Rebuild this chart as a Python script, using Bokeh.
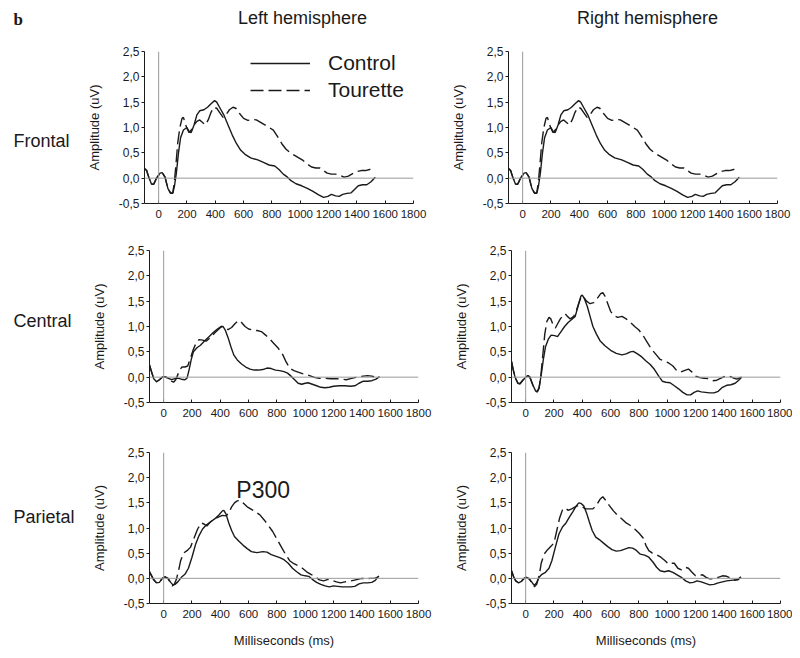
from bokeh.plotting import figure
from bokeh.models import Range1d, FixedTicker, Span, Legend, LegendItem, Label
from bokeh.layouts import column, row
from bokeh.embed import file_html
from bokeh.resources import INLINE
from bokeh.core.properties import value

FONT = "Liberation Sans"
INK = "#1a1a1a"
GRAY = "#9a9a9a"

# ---------------- data ----------------
X_TICKS = [0, 200, 400, 600, 800, 1000, 1200, 1400, 1600, 1800]
Y_TICKS = [-0.5, 0.0, 0.5, 1.0, 1.5, 2.0, 2.5]
Y_TICK_LABELS = ["-0,5", "0,0", "0,5", "1,0", "1,5", "2,0", "2,5"]
ROW_NAMES = ["Frontal", "Central", "Parietal"]
COL_NAMES = ["Left hemisphere", "Right hemisphere"]
SERIES = ["Control", "Tourette"]
PANEL_TAG = "b"
PEAK_NOTE = "P300"

# Frontal, left hemisphere
FL_CTRL_T = [-100, -85, -70, -50, -35, -15, 10, 25, 45, 65, 85, 100, 112, 125, 140, 155, 175, 200, 215, 230,
             250, 270, 290, 320, 345, 370, 395, 410, 430, 460, 490, 520, 550, 580, 610, 650, 700, 740, 780, 820,
             850, 880, 910, 935, 970, 1010, 1050, 1090, 1130, 1165, 1195, 1220, 1250, 1275, 1300, 1330, 1360,
             1385, 1410, 1440, 1470, 1500, 1530]
FL_CTRL_V = [0.19, 0.15, 0.02, -0.12, -0.12, 0.0, 0.1, 0.11, 0.02, -0.2, -0.3, -0.3, -0.15, 0.1, 0.5, 0.8, 0.95, 1.0, 0.92, 0.9,
             1.05, 1.25, 1.33, 1.35, 1.4, 1.47, 1.53, 1.5, 1.4, 1.25, 1.05, 0.85, 0.68, 0.55, 0.47, 0.4, 0.36, 0.31, 0.26, 0.24,
             0.17, 0.08, 0.02, -0.05, -0.11, -0.15, -0.2, -0.26, -0.33, -0.38, -0.36, -0.32, -0.35, -0.36, -0.32, -0.3, -0.29,
             -0.22, -0.15, -0.13, -0.13, -0.07, 0.02]
FL_TOUR_T = [-100, -85, -70, -50, -35, -15, 10, 25, 45, 65, 85, 100, 110, 120, 135, 150, 165, 175, 185, 200,
             215, 230, 250, 270, 290, 310, 330, 350, 370, 390, 410, 430, 455, 475, 500, 525, 545, 570, 600, 630,
             660, 690, 720, 750, 780, 810, 840, 870, 900, 930, 960, 990, 1020, 1050, 1080, 1110, 1140, 1165, 1190,
             1220, 1250, 1280, 1310, 1340, 1370, 1400, 1430, 1460, 1490, 1515]
FL_TOUR_V = [0.19, 0.15, 0.02, -0.12, -0.12, 0.0, 0.1, 0.11, 0.02, -0.2, -0.3, -0.28, -0.1, 0.2, 0.7, 1.0, 1.18, 1.2, 1.1, 0.98,
             0.9, 0.95, 1.05, 1.12, 1.15, 1.1, 1.05, 1.15, 1.3, 1.4, 1.38, 1.3, 1.2, 1.25, 1.35, 1.4, 1.38, 1.28, 1.18, 1.14,
             1.16, 1.15, 1.1, 1.05, 1.0, 0.95, 0.82, 0.68, 0.57, 0.5, 0.45, 0.4, 0.35, 0.28, 0.22, 0.2, 0.2, 0.15, 0.1,
             0.08, 0.08, 0.06, 0.02, 0.04, 0.09, 0.13, 0.15, 0.15, 0.17, 0.2]

# Frontal, right hemisphere (same traces as in the source figure)
FR_CTRL_T = list(FL_CTRL_T)
FR_CTRL_V = list(FL_CTRL_V)
FR_TOUR_T = list(FL_TOUR_T)
FR_TOUR_V = list(FL_TOUR_V)

# Central, left hemisphere
CL_CTRL_T = [-100, -85, -70, -50, -30, -10, 10, 30, 55, 80, 100, 125, 150, 165, 180, 195, 210, 235, 260, 290,
             320, 350, 380, 405, 420, 435, 455, 475, 495, 520, 550, 580, 610, 640, 670, 700, 730, 760, 790, 820,
             850, 875, 900, 925, 950, 975, 1000, 1020, 1050, 1080, 1110, 1140, 1170, 1200, 1240, 1280, 1320, 1350,
             1380, 1410, 1440, 1470, 1500, 1525]
CL_CTRL_V = [0.24, 0.1, -0.03, -0.09, -0.05, 0.0, 0.01, -0.02, -0.05, -0.03, -0.02, -0.04, -0.05, -0.02, 0.15, 0.35, 0.5, 0.58, 0.63, 0.72,
             0.8, 0.88, 0.95, 1.0, 1.0, 0.93, 0.78, 0.6, 0.44, 0.34, 0.26, 0.2, 0.16, 0.14, 0.14, 0.15, 0.18, 0.17, 0.14, 0.13,
             0.11, 0.08, 0.02, -0.05, -0.12, -0.14, -0.12, -0.11, -0.14, -0.17, -0.2, -0.21, -0.2, -0.18, -0.17, -0.17, -0.18, -0.17,
             -0.12, -0.08, -0.08, -0.07, -0.04, 0.01]
CL_TOUR_T = [-100, -85, -70, -50, -30, -10, 10, 30, 55, 70, 85, 100, 115, 130, 150, 170, 190, 210, 230, 250,
             275, 300, 330, 360, 390, 410, 430, 455, 480, 505, 530, 550, 575, 600, 630, 660, 690, 720, 750, 780,
             810, 840, 865, 890, 920, 950, 980, 1010, 1040, 1070, 1100, 1140, 1180, 1220, 1260, 1290, 1320, 1350,
             1380, 1410, 1440, 1470, 1500, 1515]
CL_TOUR_V = [0.24, 0.1, -0.03, -0.09, -0.05, 0.0, 0.01, -0.03, -0.08, -0.1, -0.05, 0.05, 0.15, 0.2, 0.2, 0.22, 0.38, 0.55, 0.68, 0.74,
             0.73, 0.71, 0.78, 0.87, 0.95, 1.0, 0.98, 0.94, 0.98, 1.06, 1.12, 1.08, 1.0, 0.95, 0.93, 0.92, 0.9, 0.83, 0.75, 0.66,
             0.57, 0.45, 0.3, 0.18, 0.13, 0.1, 0.07, 0.05, 0.02, -0.01, -0.02, -0.02, -0.03, -0.03, -0.04, -0.05, -0.03, -0.01,
             0.01, 0.02, 0.03, 0.02, 0.0, 0.01]

# Central, right hemisphere
CR_CTRL_T = [-100, -88, -75, -55, -40, -20, 0, 15, 30, 50, 70, 82, 95, 110, 125, 140, 160, 180, 205, 225,
             250, 275, 300, 325, 350, 370, 390, 400, 415, 435, 455, 475, 500, 525, 560, 600, 640, 680, 710, 740,
             760, 790, 820, 850, 880, 910, 940, 965, 990, 1020, 1050, 1080, 1110, 1140, 1165, 1190, 1215, 1240,
             1270, 1300, 1330, 1360, 1390, 1420, 1450, 1480, 1505, 1525]
CR_CTRL_V = [0.31, 0.15, 0.0, -0.12, -0.13, -0.06, 0.0, 0.03, 0.0, -0.15, -0.27, -0.29, -0.2, 0.05, 0.35, 0.6, 0.75, 0.83, 0.82, 0.8,
             0.9, 1.0, 1.08, 1.14, 1.2, 1.4, 1.6, 1.62, 1.55, 1.4, 1.2, 1.0, 0.85, 0.72, 0.62, 0.53, 0.47, 0.44, 0.46, 0.5,
             0.51, 0.46, 0.4, 0.32, 0.25, 0.15, 0.02, -0.08, -0.1, -0.11, -0.17, -0.23, -0.3, -0.35, -0.35, -0.3, -0.27, -0.29,
             -0.3, -0.31, -0.31, -0.28, -0.2, -0.16, -0.15, -0.12, -0.06, 0.0]
CR_TOUR_T = [-100, -88, -75, -55, -40, -20, 0, 15, 30, 50, 70, 82, 95, 108, 120, 135, 150, 165, 178, 195,
             210, 225, 245, 265, 280, 295, 315, 340, 360, 380, 395, 410, 430, 455, 480, 505, 530, 545, 560, 580,
             600, 620, 650, 680, 710, 740, 770, 800, 830, 860, 890, 920, 950, 980, 1010, 1040, 1070, 1095, 1120,
             1150, 1175, 1200, 1230, 1260, 1290, 1320, 1350, 1380, 1410, 1440, 1470, 1490, 1525]
CR_TOUR_V = [0.31, 0.15, 0.0, -0.12, -0.13, -0.06, 0.0, 0.03, 0.0, -0.15, -0.27, -0.29, -0.22, 0.05, 0.4, 0.85, 1.1, 1.18, 1.15, 1.02,
             0.97, 1.05, 1.15, 1.22, 1.25, 1.2, 1.15, 1.2, 1.33, 1.5, 1.6, 1.58, 1.5, 1.45, 1.47, 1.55, 1.65, 1.67, 1.6, 1.45,
             1.3, 1.22, 1.18, 1.2, 1.15, 1.08, 1.0, 0.93, 0.82, 0.68, 0.55, 0.45, 0.35, 0.32, 0.28, 0.22, 0.12, 0.1, 0.13,
             0.16, 0.1, 0.02, -0.01, -0.02, -0.03, -0.07, -0.06, -0.02, 0.02, 0.02, -0.02, -0.04, 0.0]

# Parietal, left hemisphere
PL_CTRL_T = [-100, -85, -70, -50, -30, -10, 10, 30, 50, 65, 80, 100, 125, 150, 175, 200, 225, 250, 275, 300,
             330, 360, 390, 415, 425, 440, 460, 480, 500, 530, 560, 590, 620, 660, 700, 730, 760, 790, 820, 850,
             880, 910, 940, 970, 1000, 1025, 1050, 1080, 1110, 1140, 1170, 1200, 1230, 1260, 1290, 1320, 1350,
             1380, 1410, 1440, 1470, 1495, 1520]
PL_CTRL_V = [0.13, 0.05, -0.03, -0.09, -0.08, 0.0, 0.03, 0.0, -0.08, -0.13, -0.12, -0.07, 0.02, 0.08, 0.2, 0.42, 0.67, 0.85, 0.98, 1.06,
             1.12, 1.18, 1.26, 1.34, 1.35, 1.28, 1.1, 0.95, 0.83, 0.74, 0.66, 0.59, 0.53, 0.51, 0.53, 0.52, 0.47, 0.44, 0.41, 0.37,
             0.3, 0.2, 0.13, 0.07, 0.05, 0.04, -0.02, -0.08, -0.12, -0.15, -0.17, -0.15, -0.16, -0.17, -0.17, -0.17, -0.16,
             -0.11, -0.09, -0.09, -0.08, -0.04, 0.05]
PL_TOUR_T = [-100, -85, -70, -50, -30, -10, 10, 30, 50, 60, 75, 90, 105, 120, 140, 165, 190, 215, 240, 265,
             285, 305, 330, 360, 390, 415, 440, 460, 480, 500, 520, 540, 560, 590, 620, 650, 680, 710, 740, 770,
             800, 830, 860, 890, 920, 950, 980, 1010, 1040, 1070, 1100, 1130, 1160, 1190, 1220, 1250, 1280, 1310,
             1340, 1370, 1400, 1430, 1460, 1490, 1515]
PL_TOUR_V = [0.13, 0.05, -0.03, -0.09, -0.08, 0.0, 0.03, 0.0, -0.1, -0.15, -0.12, -0.02, 0.15, 0.35, 0.5, 0.55, 0.62, 0.8, 0.98, 1.1,
             1.08, 1.04, 1.12, 1.18, 1.22, 1.25, 1.24, 1.3, 1.42, 1.5, 1.54, 1.55, 1.5, 1.42, 1.37, 1.32, 1.26, 1.16, 1.05, 0.93,
             0.78, 0.63, 0.48, 0.35, 0.29, 0.25, 0.2, 0.13, 0.08, 0.03, -0.03, -0.05, -0.02, -0.04, -0.07, -0.09, -0.07, -0.06,
             -0.04, -0.02, 0.0, -0.01, 0.0, 0.0, 0.03]

# Parietal, right hemisphere
PR_CTRL_T = [-100, -85, -70, -50, -30, -10, 5, 25, 45, 60, 75, 95, 115, 140, 165, 185, 210, 235, 260, 285,
             310, 335, 355, 375, 390, 410, 430, 450, 470, 495, 520, 550, 580, 610, 640, 670, 700, 730, 755, 780,
             810, 840, 870, 900, 925, 950, 980, 1010, 1040, 1070, 1100, 1130, 1160, 1185, 1210, 1240, 1270, 1300,
             1330, 1360, 1390, 1420, 1450, 1480, 1500, 1520]
PR_CTRL_V = [0.15, 0.03, -0.05, -0.09, -0.06, 0.0, 0.02, -0.01, -0.08, -0.14, -0.1, 0.02, 0.08, 0.12, 0.2, 0.35, 0.62, 0.88, 1.02, 1.1,
             1.22, 1.33, 1.43, 1.5, 1.49, 1.44, 1.3, 1.12, 0.95, 0.82, 0.77, 0.7, 0.63, 0.57, 0.54, 0.55, 0.58, 0.61, 0.6, 0.56,
             0.48, 0.46, 0.42, 0.32, 0.22, 0.15, 0.13, 0.15, 0.12, 0.07, 0.02, -0.05, -0.09, -0.08, -0.05, -0.07, -0.1, -0.13,
             -0.12, -0.09, -0.07, -0.05, -0.04, -0.03, -0.03, 0.02]
PR_TOUR_T = [-100, -85, -70, -50, -30, -10, 5, 25, 45, 62, 78, 95, 110, 130, 155, 180, 200, 220, 240, 260,
             280, 300, 325, 350, 375, 400, 425, 450, 475, 500, 525, 545, 565, 590, 620, 650, 680, 710, 740, 770,
             800, 830, 850, 870, 895, 925, 955, 985, 1010, 1030, 1050, 1075, 1100, 1125, 1150, 1175, 1200, 1225,
             1250, 1275, 1300, 1330, 1360, 1390, 1420, 1450, 1475, 1500, 1520]
PR_TOUR_V = [0.15, 0.03, -0.05, -0.09, -0.06, 0.0, 0.02, -0.01, -0.1, -0.17, -0.12, 0.05, 0.3, 0.48, 0.57, 0.64, 0.7, 0.95, 1.2, 1.36,
             1.4, 1.35, 1.38, 1.42, 1.45, 1.42, 1.38, 1.38, 1.38, 1.45, 1.57, 1.62, 1.55, 1.45, 1.34, 1.25, 1.18, 1.1, 1.05, 0.98,
             0.9, 0.8, 0.65, 0.55, 0.5, 0.47, 0.42, 0.35, 0.28, 0.3, 0.3, 0.2, 0.17, 0.22, 0.2, 0.12, 0.05, 0.06,
             0.07, 0.02, -0.01, -0.01, 0.02, 0.05, 0.04, 0.0, -0.04, -0.02, 0.03]

P300_AT = (513, 1.76)

# ---------------- layout (pixels) ----------------
FRAME_W, FRAME_H = 269, 152
BORDER_TOP = 8
HEADER_H = 43
LABEL_W = 80
ROW_H = [199, 202, 206]
ROW_BB = [39, 42, 46]
LEFT_FRAME = [144, 149, 149]
RIGHT_FRAME = [508, 511, 511]
PAGE_W = 792


def style_axes(p, xlabel):
    p.xgrid.visible = False
    p.ygrid.visible = False
    p.xaxis.ticker = FixedTicker(ticks=X_TICKS)
    p.yaxis.ticker = FixedTicker(ticks=Y_TICKS)
    p.yaxis.major_label_overrides = {t: s for t, s in zip(Y_TICKS, Y_TICK_LABELS)}
    for ax in (p.xaxis[0], p.yaxis[0]):
        ax.axis_line_color = INK
        ax.axis_line_width = 1
        ax.minor_tick_line_color = None
        ax.major_tick_line_color = INK
        ax.major_label_text_font = FONT
        ax.major_label_text_color = INK
        ax.axis_label_text_font = FONT
        ax.axis_label_text_font_size = "13px"
        ax.axis_label_text_font_style = "normal"
        ax.axis_label_text_color = INK
    p.xaxis.major_label_text_font_size = "11.5px"
    p.yaxis.major_label_text_font_size = "12px"
    p.xaxis.major_tick_in = 3
    p.xaxis.major_tick_out = 0
    p.xaxis.major_label_standoff = 6
    p.yaxis.major_tick_in = 0
    p.yaxis.major_tick_out = 3
    p.yaxis.major_label_standoff = 2
    p.yaxis.axis_label = "Amplitude (uV)"
    p.yaxis.axis_label_standoff = 14
    if xlabel:
        p.xaxis.axis_label = "Milliseconds (ms)"
        p.xaxis.axis_label_standoff = 12


def panel(width, height, bl, br, bb, ct, cv, tt, tv, xlabel=False, legend=False, note=False):
    p = figure(width=width, height=height, x_range=Range1d(-100, 1800), y_range=Range1d(-0.5, 2.5),
               output_backend="svg", toolbar_location=None, title=None,
               min_border_left=bl, min_border_right=br, min_border_top=BORDER_TOP, min_border_bottom=bb)
    p.outline_line_color = None
    p.background_fill_color = "white"
    p.border_fill_color = "white"
    style_axes(p, xlabel)
    p.add_layout(Span(location=0, dimension="width", line_color=GRAY, line_width=1))
    p.add_layout(Span(location=0, dimension="height", line_color=GRAY, line_width=1))
    r1 = p.line(ct, cv, line_color=INK, line_width=1.4)
    r2 = p.line(tt, tv, line_color=INK, line_width=1.4, line_dash="13 5")
    if legend:
        lg = Legend(items=[LegendItem(label=SERIES[0], renderers=[r1]),
                           LegendItem(label=SERIES[1], renderers=[r2])],
                    location=(106, 101), glyph_width=60, glyph_height=24, label_height=24,
                    label_standoff=18, spacing=3, padding=0, margin=0,
                    label_text_font=FONT, label_text_font_size="21px", label_text_color=INK,
                    border_line_color=None, background_fill_alpha=0)
        p.add_layout(lg)
    if note:
        p.add_layout(Label(x=P300_AT[0], y=P300_AT[1], text=PEAK_NOTE, text_font=FONT,
                           text_font_size="23px", text_color=INK, text_baseline="middle",
                           text_align="left"))
    return p


def text_fig(width, height, ymax, bt=0, bb=0):
    p = figure(width=width, height=height, x_range=Range1d(0, width), y_range=Range1d(0, ymax),
               output_backend="svg", toolbar_location=None, title=None,
               x_axis_location=None, y_axis_location=None, min_border=0,
               min_border_top=bt, min_border_bottom=bb, min_border_left=0, min_border_right=0)
    p.outline_line_color = None
    p.xgrid.visible = False
    p.ygrid.visible = False
    p.background_fill_color = "white"
    p.border_fill_color = "white"
    return p


# header: text centres measured in px from the top of the page
header = text_fig(PAGE_W, HEADER_H, HEADER_H)
header.text(x=[13], y=[HEADER_H - 19], text=[PANEL_TAG], text_font=value("Liberation Serif"),
            text_font_style="bold", text_font_size="17px", text_color=INK,
            text_baseline="middle", text_align="left")
header.text(x=[302, 647], y=[HEADER_H - 17, HEADER_H - 17], text=COL_NAMES, text_font=value(FONT),
            text_font_size="18px", text_color=INK, text_baseline="middle", text_align="center")

DATA = [
    (FL_CTRL_T, FL_CTRL_V, FL_TOUR_T, FL_TOUR_V, FR_CTRL_T, FR_CTRL_V, FR_TOUR_T, FR_TOUR_V),
    (CL_CTRL_T, CL_CTRL_V, CL_TOUR_T, CL_TOUR_V, CR_CTRL_T, CR_CTRL_V, CR_TOUR_T, CR_TOUR_V),
    (PL_CTRL_T, PL_CTRL_V, PL_TOUR_T, PL_TOUR_V, PR_CTRL_T, PR_CTRL_V, PR_TOUR_T, PR_TOUR_V),
]
# centre of each row name, in px below the top of the panel frame
LABEL_DROP = [89, 70, 65]

rows = [header]
for i in range(3):
    h = ROW_H[i]
    # the label strip shares the panels' frame (row layouts align plot frames)
    lab = text_fig(LABEL_W, h, FRAME_H, bt=BORDER_TOP, bb=ROW_BB[i])
    lab.text(x=[13], y=[FRAME_H - LABEL_DROP[i]], text=[ROW_NAMES[i]], text_font=value(FONT),
             text_font_size="18px", text_color=INK, text_baseline="middle", text_align="left")
    left_start = LABEL_W
    bl = LEFT_FRAME[i] - left_start
    right_start = RIGHT_FRAME[i] - 64
    br = right_start - (LEFT_FRAME[i] + FRAME_W)
    lw = bl + FRAME_W + br
    rw = PAGE_W - right_start
    rbr = rw - 64 - FRAME_W
    d = DATA[i]
    pl = panel(lw, h, bl, br, ROW_BB[i], d[0], d[1], d[2], d[3], xlabel=(i == 2), legend=(i == 0), note=(i == 2))
    pr = panel(rw, h, 64, rbr, ROW_BB[i], d[4], d[5], d[6], d[7], xlabel=(i == 2))
    rows.append(row(lab, pl, pr, spacing=0))

layout = column(*rows, spacing=0)
open("out.html", "w").write(file_html(layout, INLINE))
